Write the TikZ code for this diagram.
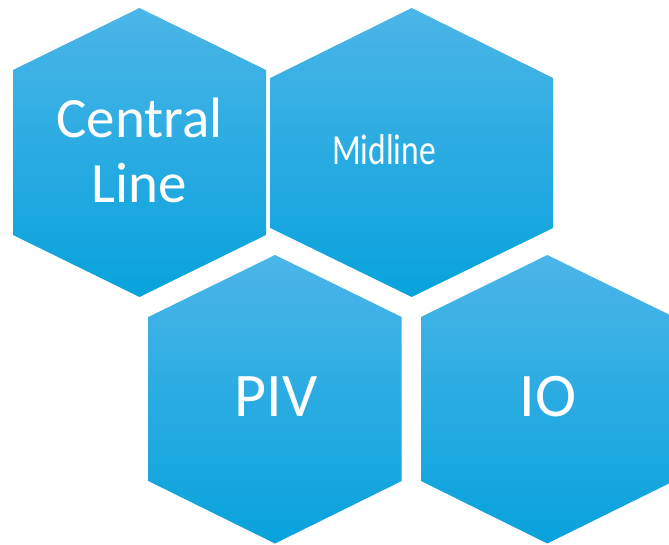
\documentclass[tikz,border=0pt]{standalone}
\usepackage{fontspec}
\setmainfont{Carlito}
\newfontfamily\narrowfont[FakeStretch=0.78]{Carlito}
\usepackage{tikz}
\usetikzlibrary{positioning}
\definecolor{hextop}{HTML}{4BB5E8}
\definecolor{hexmid}{HTML}{1BB1EC}
\definecolor{hexbot}{HTML}{08A2DC}
\tikzset{
    hexcell/.style={
        top color=hextop, middle color=hexmid, bottom color=hexbot,
        draw=none
    },
    biglabel/.style={
        text=white, font=\fontsize{57}{65}\selectfont, align=center,
        inner sep=0pt
    },
    hugelabel/.style={
        text=white, font=\fontsize{62}{70}\selectfont,
        inner sep=0pt, anchor=base
    },
    smalllabel/.style={
        text=white, font=\narrowfont\fontsize{43}{50}\selectfont,
        inner sep=0pt, anchor=base
    },
}

\begin{document}
\begin{tikzpicture}[x=1pt, y=-1pt]
    \useasboundingbox (0,0) rectangle (669,545);
    \clip (0,0) rectangle (669,545);
    % upper row
    \shade[hexcell] (139.5,8) -- (266,70) -- (266,235) -- (139.5,297)
        -- (13,235) -- (13,70) -- cycle;
    \shade[hexcell] (411.7,8) -- (553,78) -- (553,228) -- (411.7,297)
        -- (270.3,228) -- (270.3,78) -- cycle;
    % lower row
    \shade[hexcell] (275,255) -- (401.7,317) -- (401.7,481) -- (275,543.5)
        -- (148.3,481) -- (148.3,317) -- cycle;
    \shade[hexcell] (547.3,255) -- (674,317) -- (674,481) -- (547.3,543.5)
        -- (421,481) -- (421,317) -- cycle;
    % labels
    \node[biglabel] (central) at (139.5,150.5) {Central\\Line};
    \node[smalllabel] (midline) at (384,165) {Midline};
    \node[hugelabel] (piv) at (276,416.7) {PIV};
    \node[hugelabel] (io) at (548,416.7) {IO};
\end{tikzpicture}
\end{document}
